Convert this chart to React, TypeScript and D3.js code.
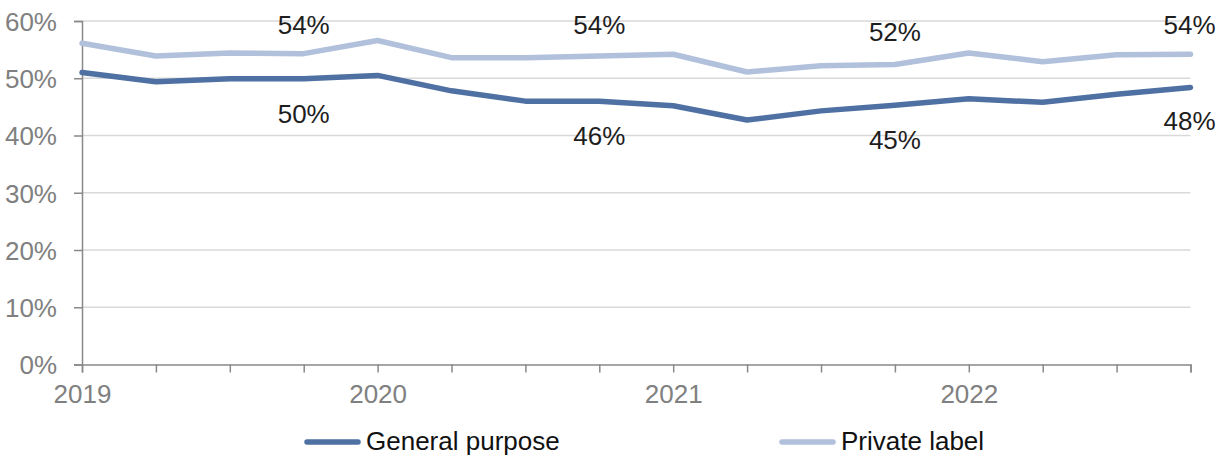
import { useRef, useEffect } from 'react'
import * as d3 from 'd3'

const quarters = [
  '2019Q1', '2019Q2', '2019Q3', '2019Q4',
  '2020Q1', '2020Q2', '2020Q3', '2020Q4',
  '2021Q1', '2021Q2', '2021Q3', '2021Q4',
  '2022Q1', '2022Q2', '2022Q3', '2022Q4',
]
const generalPurpose = [51.0, 49.4, 49.9, 49.9, 50.5, 47.8, 46.0, 46.0, 45.2, 42.7, 44.3, 45.3, 46.4, 45.8, 47.2, 48.4]
const privateLabel = [56.1, 53.9, 54.4, 54.3, 56.6, 53.6, 53.6, 53.9, 54.2, 51.1, 52.2, 52.4, 54.4, 52.9, 54.1, 54.2]
const yTicks = [0, 10, 20, 30, 40, 50, 60]

const DARK = '#4f70a2'
const LIGHT = '#b1c0db'
const FONT = '"Liberation Sans", Arial, sans-serif'
const FS = '26px'

export default function App() {
  const ref = useRef<SVGSVGElement>(null)

  useEffect(() => {
    if (!ref.current) return
    const svg = d3.select(ref.current)
    svg.selectAll('*').remove()

    const x = d3.scalePoint().domain(quarters).range([82, 1190.5])
    const y = d3.scaleLinear().domain([0, 60]).range([364.5, 21])

    // Grid lines
    svg
      .append('g')
      .selectAll('line')
      .data(yTicks.filter((t) => t > 0))
      .join('line')
      .attr('x1', 82)
      .attr('x2', 1190.5)
      .attr('y1', (d) => y(d))
      .attr('y2', (d) => y(d))
      .attr('stroke', '#d9d9d9')
      .attr('stroke-width', 1.3)

    // Y axis
    const yAxis = svg
      .append('g')
      .attr('transform', 'translate(82,0)')
      .call(d3.axisLeft(y).tickValues(yTicks).tickSize(8).tickPadding(17).tickFormat((d) => `${d}%`))
    yAxis.select('.domain').attr('stroke', '#898989').attr('stroke-width', 1.5)
    yAxis.selectAll('.tick line').attr('stroke', '#898989').attr('stroke-width', 1.5)
    yAxis
      .selectAll('text')
      .attr('font-family', FONT)
      .attr('font-size', FS)
      .attr('fill', '#808080')
      .attr('dy', '0.36em')

    // X axis
    const xAxis = svg
      .append('g')
      .attr('transform', `translate(0,${y(0)})`)
      .call(
        d3
          .axisBottom(x)
          .tickSize(8)
          .tickPadding(12)
          .tickFormat((d) => (String(d).endsWith('Q1') ? String(d).slice(0, 4) : ''))
      )
    xAxis.select('.domain').attr('stroke', '#898989').attr('stroke-width', 1.5)
    xAxis.selectAll('.tick line').attr('stroke', '#898989').attr('stroke-width', 1.5)
    xAxis
      .selectAll('text')
      .attr('font-family', FONT)
      .attr('font-size', FS)
      .attr('fill', '#808080')
      .attr('dy', '0.71em')

    const line = d3
      .line<number>()
      .x((_, i) => x(quarters[i])!)
      .y((d) => y(d))

    const series = [
      { name: 'Private label', values: privateLabel, color: LIGHT },
      { name: 'General purpose', values: generalPurpose, color: DARK },
    ]

    series.forEach((s) => {
      svg
        .append('path')
        .datum(s.values)
        .attr('d', line)
        .attr('fill', 'none')
        .attr('stroke', s.color)
        .attr('stroke-width', 5.5)
        .attr('stroke-linejoin', 'round')
        .attr('stroke-linecap', 'round')
    })

    // Data labels at Q4 of each year
    const labelIdx = [3, 7, 11, 15]
    const privBaselines = [34, 34, 40.5, 34]
    const genBaselines = [122.5, 145, 148.5, 130]
    labelIdx.forEach((i, k) => {
      const cx = x(quarters[i])! - (k === 3 ? 1 : 0)
      svg
        .append('text')
        .attr('x', cx)
        .attr('y', privBaselines[k])
        .attr('text-anchor', 'middle')
        .attr('font-family', FONT)
        .attr('font-size', FS)
        .attr('fill', '#1e1e1e')
        .text(`${Math.round(privateLabel[i])}%`)
      svg
        .append('text')
        .attr('x', cx)
        .attr('y', genBaselines[k])
        .attr('text-anchor', 'middle')
        .attr('font-family', FONT)
        .attr('font-size', FS)
        .attr('fill', '#1e1e1e')
        .text(`${Math.round(generalPurpose[i])}%`)
    })

    // Legend
    const legendItems = [
      { name: 'General purpose', color: DARK, x: 305 },
      { name: 'Private label', color: LIGHT, x: 780 },
    ]
    legendItems.forEach((item) => {
      svg
        .append('line')
        .attr('x1', item.x + 2)
        .attr('x2', item.x + 53)
        .attr('y1', 442)
        .attr('y2', 442)
        .attr('stroke', item.color)
        .attr('stroke-width', 5.5)
        .attr('stroke-linecap', 'round')
      svg
        .append('text')
        .attr('x', item.x + 61)
        .attr('y', 450)
        .attr('font-family', FONT)
        .attr('font-size', FS)
        .attr('fill', '#111')
        .text(item.name)
    })
  }, [])

  return (
    <div style={{ position: 'absolute', left: 0, top: 0 }}>
      <svg ref={ref} width={1226} height={457} style={{ display: 'block', background: '#fff' }} />
    </div>
  )
}
